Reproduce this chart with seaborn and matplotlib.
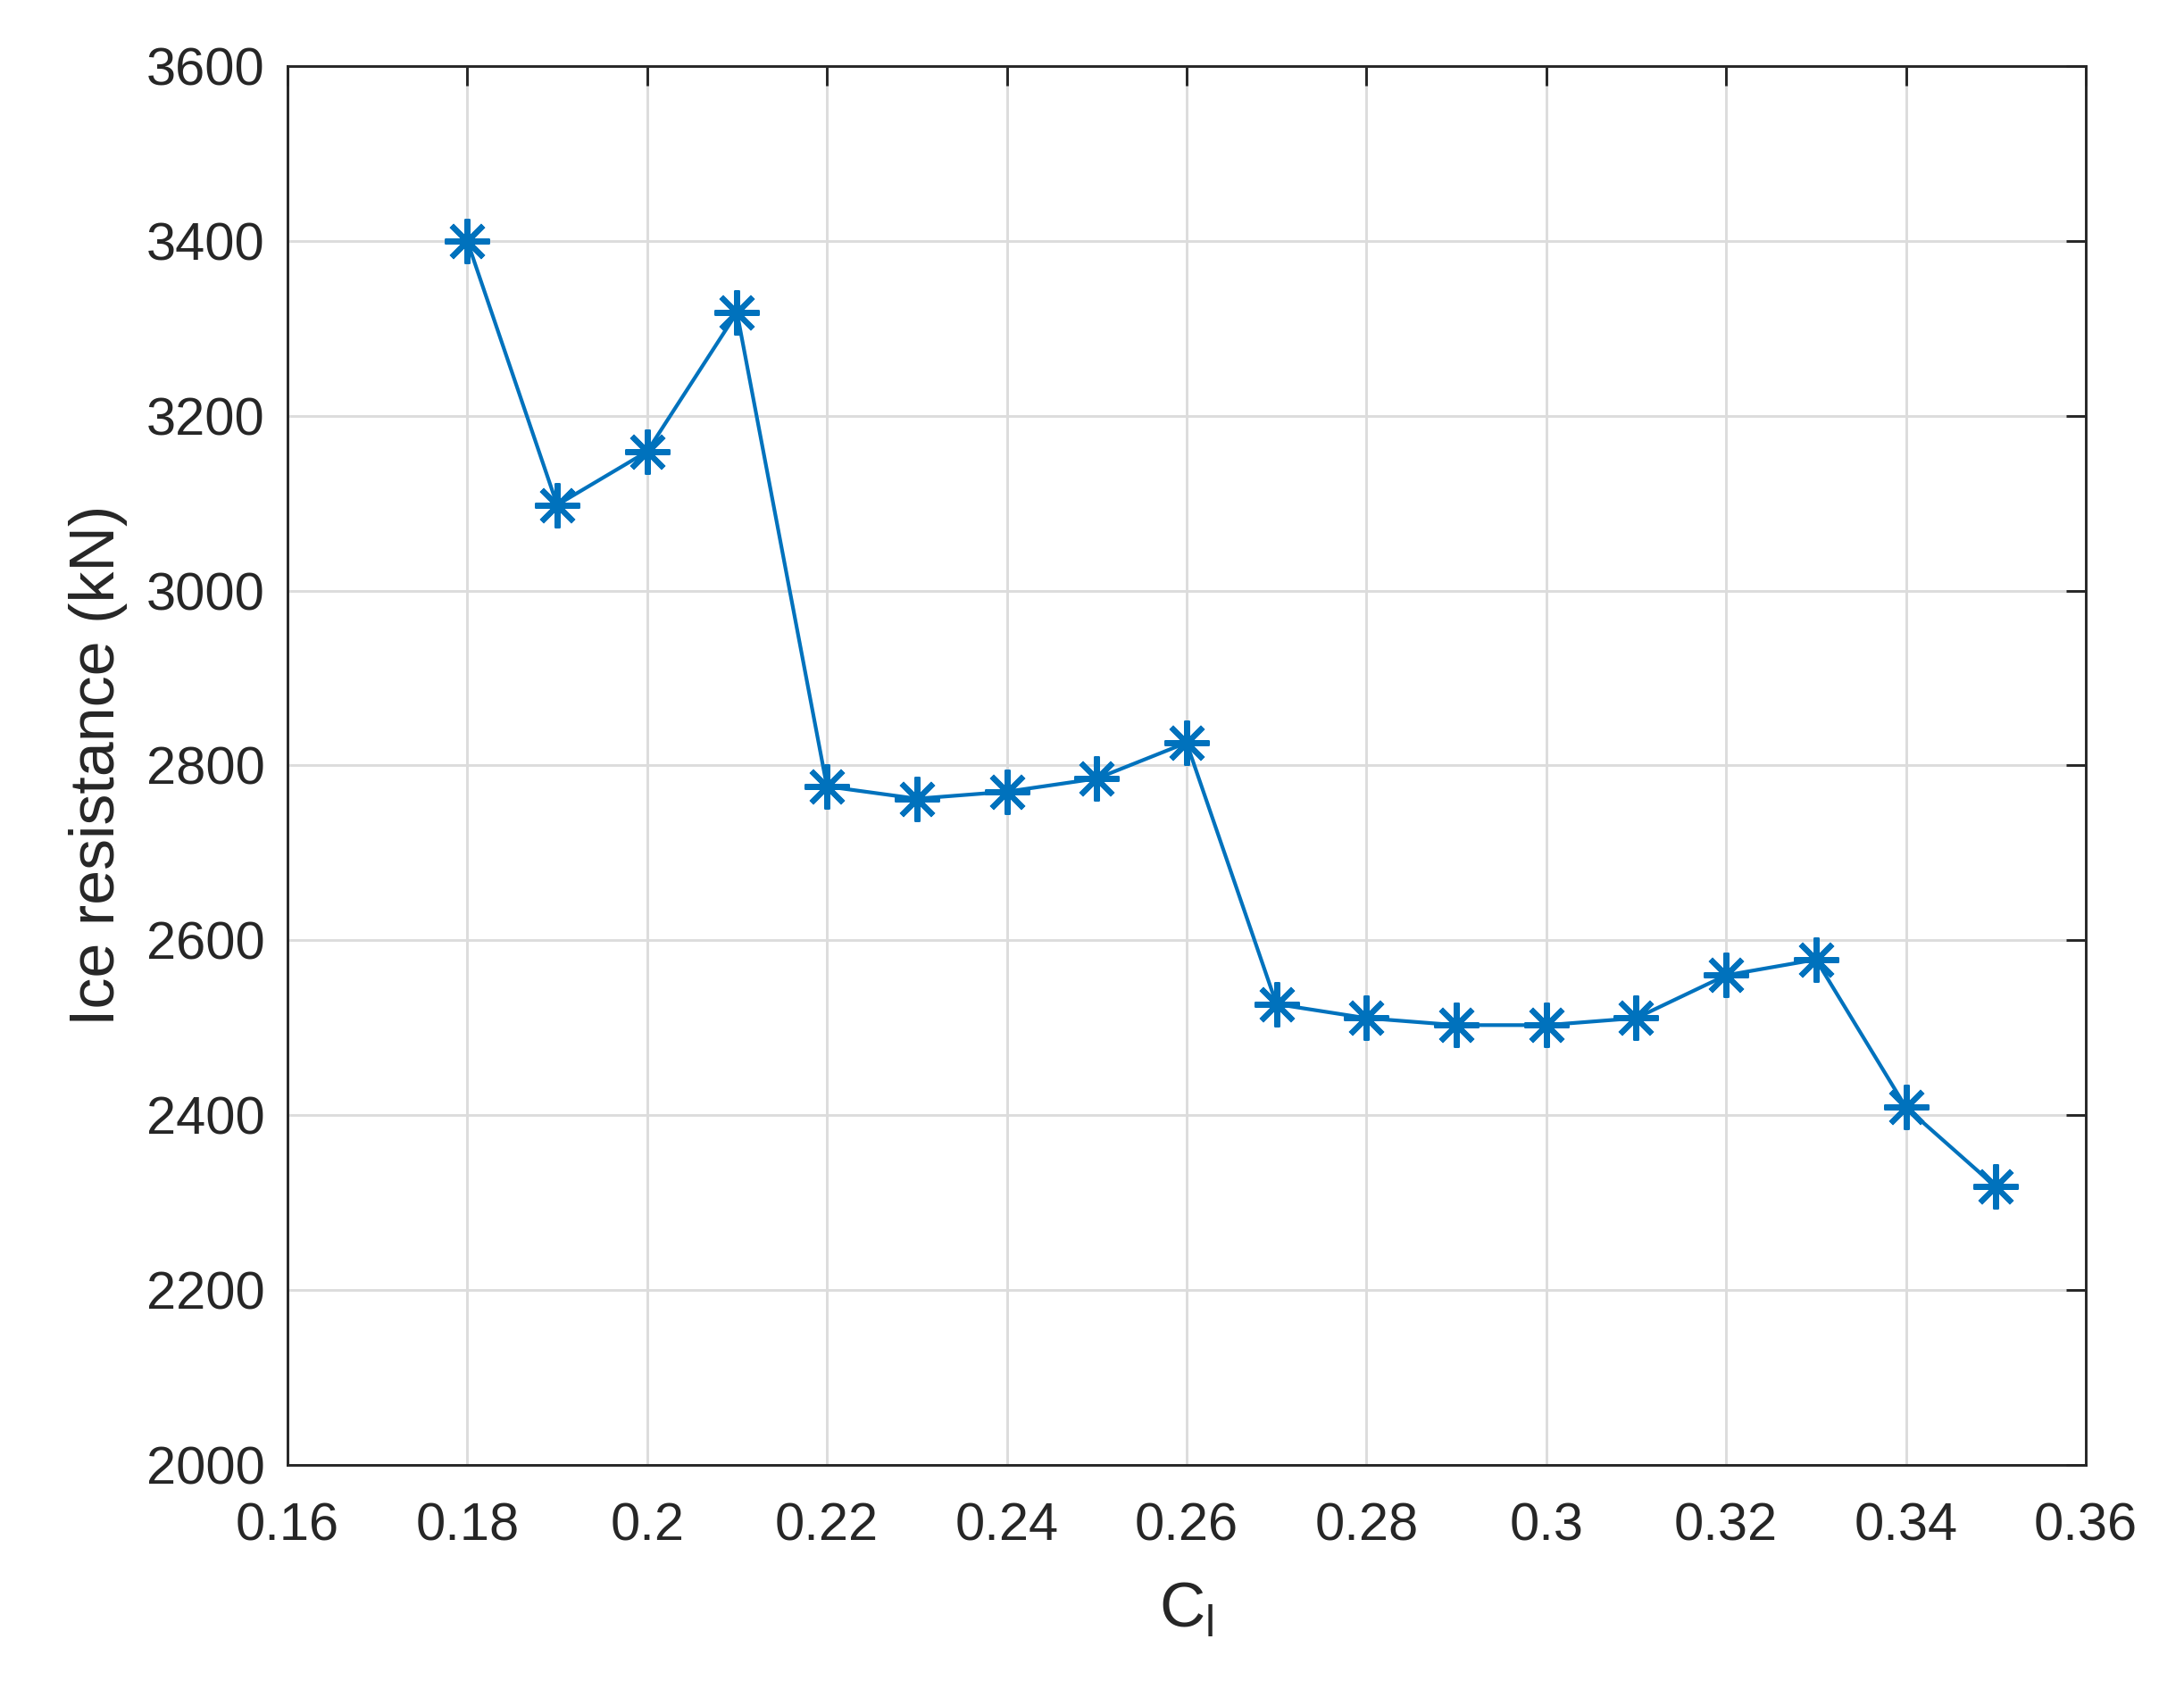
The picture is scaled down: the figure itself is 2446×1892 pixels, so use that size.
import numpy as np
import pandas as pd
import matplotlib
matplotlib.use("Agg")
import matplotlib.pyplot as plt
import seaborn as sns

# Datos
cl = [0.18, 0.19, 0.20, 0.21, 0.22, 0.23, 0.24, 0.25, 0.26,
      0.27, 0.28, 0.29, 0.30, 0.31, 0.32, 0.33, 0.34, 0.35]
resistencia = [3400, 3098, 3159, 3318, 2776, 2762, 2770, 2785, 2826,
               2527, 2511, 2503, 2503, 2511, 2560, 2578, 2409, 2318]
xticks = [0.16, 0.18, 0.2, 0.22, 0.24, 0.26, 0.28, 0.3, 0.32, 0.34, 0.36]
xtick_labels = ["0.16", "0.18", "0.2", "0.22", "0.24", "0.26", "0.28", "0.3", "0.32", "0.34", "0.36"]
yticks = [2000, 2200, 2400, 2600, 2800, 3000, 3200, 3400, 3600]

data = pd.DataFrame({"cl": cl, "res": resistencia})

sns.set_style("white")
plt.rcParams['font.family'] = ['Liberation Sans', 'DejaVu Sans']
plt.rcParams['mathtext.fontset'] = 'custom'
plt.rcParams['mathtext.rm'] = 'Liberation Sans'

fig = plt.figure(figsize=(2446/300, 1892/300), dpi=300)
ax = fig.add_axes([0.1316, 0.1327, 0.8234, 0.8282])

azul = '#0072BD'
sns.lineplot(data=data, x="cl", y="res", ax=ax, color=azul, linewidth=1.0,
             marker=(8, 2, 0), markersize=12, markeredgewidth=1.5,
             markeredgecolor=azul, markerfacecolor=azul)

ax.set_xlim(0.16, 0.36)
ax.set_ylim(2000, 3600)
ax.set_xticks(xticks)
ax.set_xticklabels(xtick_labels)
ax.set_yticks(yticks)

ax.grid(True, color='#dcdcdc', linewidth=0.7)
ax.set_axisbelow(True)

for s in ax.spines.values():
    s.set_visible(True)
    s.set_color('#262626')
    s.set_linewidth(0.7)

ax.tick_params(direction='in', length=5.3, width=0.7, color='#262626',
               labelsize=14.3, labelcolor='#262626', top=True, right=True,
               pad=6)
ax.tick_params(axis='x', pad=10)

ax.set_xlabel(r"C$_\mathregular{l}$", fontsize=17, color='#262626', labelpad=8)
ax.set_ylabel("Ice resistance (kN)", fontsize=16.8, color='#262626', labelpad=5)

fig.savefig("out.png", dpi=300)
